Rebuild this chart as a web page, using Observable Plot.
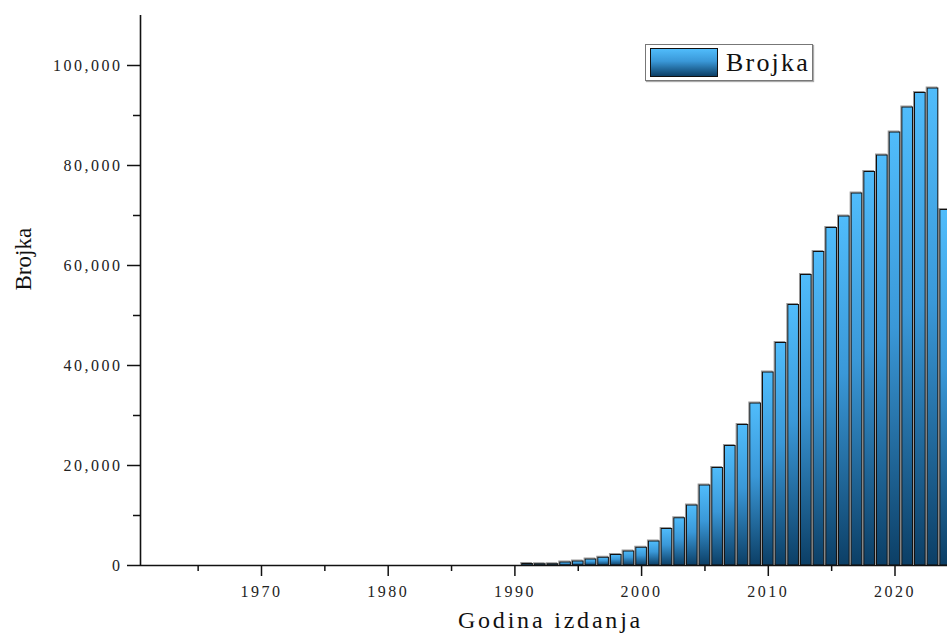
<!DOCTYPE html>
<html>
<head>
<meta charset="utf-8">
<script src="https://cdn.jsdelivr.net/npm/d3@7"></script>
<script src="https://cdn.jsdelivr.net/npm/@observablehq/plot@0.6"></script>
<style>
  html, body { margin: 0; padding: 0; background: #fff; overflow: hidden; width: 947px; height: 640px; }
  #wrap { position: relative; width: 947px; height: 640px; overflow: hidden; }
  #wrap svg { max-width: none !important; height: 640px !important; }
  #legend {
    position: absolute; left: 645px; top: 44px; width: 166px; height: 35px;
    border: 1.5px solid #777; background: #fff; box-shadow: 1px 1px 1px #aaa;
    display: flex; align-items: center; box-sizing: content-box;
  }
  #legend .sw {
    width: 66px; height: 27px; margin-left: 4px; border: 1px solid #111;
    background: linear-gradient(to bottom, #50bcfb 0%, #3a98d8 45%, #0c3f66 100%);
  }
  #legend .lbl {
    margin-left: 8px; font-family: "Liberation Serif", "Times New Roman", serif;
    font-size: 26px; letter-spacing: 2.2px; color: #111;
  }
</style>
</head>
<body>
<div id="wrap"><div id="legend"><div class="sw"></div><div class="lbl">Brojka</div></div></div>
<script>
const years = [1991,1992,1993,1994,1995,1996,1997,1998,1999,2000,2001,2002,2003,2004,2005,2006,2007,2008,2009,2010,2011,2012,2013,2014,2015,2016,2017,2018,2019,2020,2021,2022,2023,2024];
const counts = [300,250,250,600,800,1200,1550,2100,2800,3550,4800,7300,9450,12000,16000,19500,23900,28100,32400,38600,44500,52100,58100,62700,67500,69800,74400,78700,82000,86600,91600,94500,95400,71100];
const xMajorTicks = [1970,1980,1990,2000,2010,2020];
const xMinorTicks = [1965,1975,1985,1995,2005,2015,2025];
const yMajorTicks = [0,20000,40000,60000,80000,100000];
const yMinorTicks = [10000,30000,50000,70000,90000];
const xTitle = "Godina izdanja";
const yTitle = "Brojka";

const data = years.map((y, i) => ({year: y, count: counts[i]}));
const xDomain = [1960.45, 2025.17];
const halfBar = 0.42;

const chart = Plot.plot({
  width: 960, height: 640,
  marginLeft: 140, marginRight: 0, marginTop: 15, marginBottom: 75,
  x: {domain: xDomain},
  y: {domain: [0, 110000]},
  style: {fontFamily: "Liberation Serif, Times New Roman, serif", fontSize: "16px", color: "#1a1a1a", background: "transparent"},
  marks: [
    Plot.rectY(data, {x1: d => d.year - halfBar, x2: d => d.year + halfBar, y: "count", fill: "none", stroke: "#999", strokeWidth: 1, dx: -1, dy: -1}),
    Plot.rectY(data, {x1: d => d.year - halfBar, x2: d => d.year + halfBar, y: "count", fill: "url(#barGrad)", stroke: "#111", strokeWidth: 1}),
    Plot.ruleX([xDomain[0]], {stroke: "#111", strokeWidth: 1.6}),
    Plot.ruleY([0], {stroke: "#111", strokeWidth: 1.6}),
    Plot.axisY({ticks: yMajorTicks, tickSize: 13, tickPadding: 5, tickFormat: d3.format(","), label: null, stroke: "#111", strokeWidth: 1.5, fill: "#222", fontSize: 16}),
    Plot.axisY({ticks: yMinorTicks, tickSize: 7, tickFormat: () => "", label: null, stroke: "#111", strokeWidth: 1.5}),
    Plot.axisX({ticks: xMajorTicks, tickSize: 11, tickPadding: 9, tickFormat: d => String(d), label: null, stroke: "#111", strokeWidth: 1.5, fill: "#222", fontSize: 16}),
    Plot.axisX({ticks: xMinorTicks, tickSize: 6, tickFormat: () => "", label: null, stroke: "#111", strokeWidth: 1.5}),
    Plot.text([xTitle], {text: d => d, frameAnchor: "bottom", dy: 62, fontSize: 24, fill: "#111", className: "xtitle"}),
    Plot.text([yTitle], {text: d => d, frameAnchor: "left", rotate: -90, dx: -117, fontSize: 23, fill: "#111"})
  ]
});

const svgNS = "http://www.w3.org/2000/svg";
const defs = document.createElementNS(svgNS, "defs");
defs.innerHTML = `<linearGradient id="barGrad" x1="0" y1="0" x2="0" y2="1">
  <stop offset="0%" stop-color="#50bcfb"/>
  <stop offset="45%" stop-color="#3a98d8"/>
  <stop offset="100%" stop-color="#0c3f66"/>
</linearGradient>`;
chart.insertBefore(defs, chart.firstChild);
chart.querySelectorAll("g[aria-label='y-axis tick label'] text, g[aria-label='x-axis tick label'] text").forEach(t => t.style.letterSpacing = "2.5px");
chart.querySelectorAll(".xtitle text").forEach(t => t.style.letterSpacing = "2.8px");
chart.style.position = "absolute";
chart.style.left = "0px";
chart.style.top = "0px";
chart.style.maxWidth = "none";
chart.style.width = "960px";
chart.style.height = "640px";
const wrap = document.getElementById("wrap");
wrap.insertBefore(chart, wrap.firstChild);
</script>
</body>
</html>
